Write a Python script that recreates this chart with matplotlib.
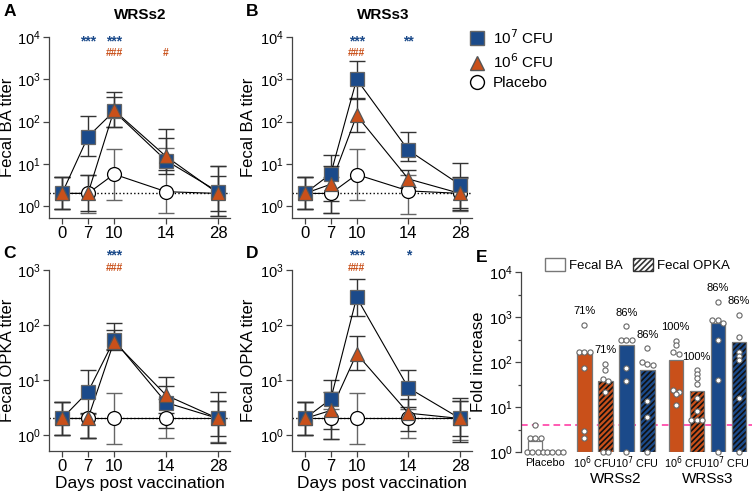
import numpy as np
import matplotlib.pyplot as plt
from matplotlib.patches import Patch
from matplotlib.lines import Line2D
from matplotlib.ticker import LogLocator, NullLocator, FixedLocator, NullFormatter

plt.rcParams['font.family'] = ['Liberation Sans', 'DejaVu Sans']
plt.rcParams['hatch.linewidth'] = 1.2

BLUE = '#1B4A8A'
ORANGE = '#C9501A'
AXC = '#444444'

days = ['0', '7', '10', '14', '28']
lod = 2.0

# ---- A: WRSs2 fecal BA
a_hi = [2.0, 44, 175, 12, 2.2]
a_hi_lo = [0.85, 15, 75, 5.8, 0.75]
a_hi_up = [5.0, 138, 490, 40, 9.0]
a_mid = [2.0, 2.0, 185, 15, 2.0]
a_mid_lo = [0.85, 0.75, 75, 7.0, 0.6]
a_mid_up = [5.0, 5.5, 390, 67, 5.3]
a_pl = [2.0, 2.0, 5.7, 2.2, 2.0]
a_pl_lo = [0.85, 0.7, 1.4, 0.68, 0.6]
a_pl_up = [5.0, 5.5, 22, 24, 9.0]

# ---- B: WRSs3 fecal BA
b_hi = [2.0, 5.8, 1000, 21, 3.2]
b_hi_lo = [0.85, 1.3, 370, 11.5, 0.9]
b_hi_up = [4.8, 16, 2650, 58, 10.5]
b_mid = [2.0, 3.3, 140, 4.4, 2.0]
b_mid_lo = [0.85, 0.7, 56, 2.8, 0.8]
b_mid_up = [4.8, 8.8, 350, 7.2, 5.0]
b_pl = [2.0, 2.0, 5.6, 2.3, 2.0]
b_pl_lo = [0.85, 0.7, 1.4, 0.65, 0.75]
b_pl_up = [4.8, 5.0, 22, 5.5, 4.6]

# ---- C: WRSs2 fecal OPKA
c_hi = [2.0, 6.1, 53, 3.9, 2.0]
c_hi_lo = [1.0, 0.9, 37, 1.35, 0.95]
c_hi_up = [4.0, 15, 107, 7.9, 6.1]
c_mid = [2.0, 2.0, 50, 5.3, 2.0]
c_mid_lo = [1.0, 0.87, 35, 2.5, 0.72]
c_mid_up = [4.0, 2.5, 81, 11.5, 4.2]
c_pl = [2.0, 2.0, 2.0, 2.0, 2.0]
c_pl_lo = [1.0, 0.9, 0.7, 0.87, 0.75]
c_pl_up = [4.0, 2.4, 5.8, 4.5, 4.2]

# ---- D: WRSs3 fecal OPKA
d_hi = [2.0, 4.5, 317, 7.2, 2.0]
d_hi_lo = [1.0, 0.85, 145, 3.3, 0.95]
d_hi_up = [4.0, 10, 690, 15, 4.8]
d_mid = [2.0, 2.8, 30, 2.5, 2.0]
d_mid_lo = [1.0, 1.3, 15.5, 1.2, 0.75]
d_mid_up = [4.0, 6.0, 62, 4.6, 4.2]
d_pl = [2.0, 2.0, 2.0, 2.0, 2.0]
d_pl_lo = [1.0, 0.85, 0.7, 0.87, 0.8]
d_pl_up = [4.0, 3.0, 5.8, 3.0, 4.2]

# significance marks: (day index, text, colour key)
a_sig = [(1, '***', 'b'), (2, '***', 'b'), (2, '###', 'o'), (3, '#', 'o')]
b_sig = [(2, '***', 'b'), (3, '**', 'b'), (2, '###', 'o')]
c_sig = [(2, '***', 'b'), (2, '###', 'o')]
d_sig = [(2, '***', 'b'), (3, '*', 'b'), (2, '###', 'o')]

# ---- E: fold increase
e_groups = ['Placebo', 'Placebo', 'WRSs2 1e6', 'WRSs2 1e6', 'WRSs2 1e7', 'WRSs2 1e7',
            'WRSs3 1e6', 'WRSs3 1e6', 'WRSs3 1e7', 'WRSs3 1e7']
e_assay = ['BA', 'OPKA'] * 5
e_height = [1.8, 1.0, 170, 37, 240, 68, 112, 23, 720, 275]
e_points = [
    [4, 2, 2, 2, 1, 1, 1, 1],
    [1, 1, 1, 1],
    [680, 170, 170, 170, 73, 3, 2],
    [92, 65, 42, 37, 22, 1, 1],
    [617, 313, 313, 313, 75, 38, 1],
    [200, 100, 92, 85, 13.5, 6, 1],
    [295, 236, 163, 147, 24, 22, 19, 11],
    [65, 54, 44, 32, 16, 8.2, 5.2, 5.2, 5.2],
    [2170, 870, 740, 870, 316, 39, 1],
    [1120, 360, 168, 135, 110, 16, 1],
]
e_pct = [None, None, '71%', '71%', '86%', '86%', '100%', '100%', '86%', '86%']
e_ticklabels = ['Placebo', r'10$^6$ CFU', r'10$^7$ CFU', r'10$^6$ CFU', r'10$^7$ CFU']
e_strains = ['WRSs2', 'WRSs3']
e_cutoff = 4

W, H = 752, 494
fig = plt.figure(figsize=(W / 100, H / 100), dpi=100)


def px_axes(x0, y0, x1, y1):
    return fig.add_axes([x0 / W, 1 - y1 / H, (x1 - x0) / W, (y1 - y0) / H])


xpos = [0, 0.5, 1, 2, 3]


def style(ax):
    for s in ['top', 'right']:
        ax.spines[s].set_visible(False)
    for s in ['left', 'bottom']:
        ax.spines[s].set_color(AXC)
        ax.spines[s].set_linewidth(0.9)
    ax.tick_params(colors=AXC, labelcolor='black', labelsize=10.5, width=0.9, length=4, pad=2)
    ax.tick_params(axis='x', labelsize=12, pad=2)


def time_panel(ax, hi, hi_lo, hi_up, mid, mid_lo, mid_up, pl, pl_lo, pl_up, ylim, sig, sig_y):
    style(ax)
    ax.set_yscale('log')
    ax.axhline(lod, color='black', ls=':', lw=1.0, zorder=1)
    series = [
        (pl, pl_lo, pl_up, 'o', 'white', 'black', '#666666', 10),
        (hi, hi_lo, hi_up, 's', BLUE, '#666666', '#333333', 10),
        (mid, mid_lo, mid_up, '^', ORANGE, '#555555', '#333333', 10),
    ]
    for k, (m, lo, up, mk, fc, ec, errc, ms) in enumerate(series):
        m = np.array(m)
        yerr = [m - np.array(lo), np.array(up) - m]
        ax.errorbar(xpos, m, yerr=yerr, fmt='none', ecolor=errc, elinewidth=1.0,
                    capsize=6, capthick=1.0, zorder=2 + k)
        ax.plot(xpos, m, color='black', lw=0.8, zorder=5 + k)
        ax.plot(xpos, m, ls='none', marker=mk, ms=ms, mfc=fc, mec=ec, mew=0.9, zorder=8 + k)
    ax.set_ylim(*ylim)
    ax.set_xlim(-0.25, 3.23)
    ax.set_xticks(xpos)
    ax.set_xticklabels(days)
    ax.yaxis.set_major_locator(LogLocator(base=10, numticks=10))
    ax.yaxis.set_minor_locator(NullLocator())
    for idx, txt, ck in sig:
        col = BLUE if ck == 'b' else ORANGE
        y = sig_y[0] if ck == 'b' else sig_y[1]
        ax.text(xpos[idx], y, txt, transform=ax.get_xaxis_transform(), ha='center', va='center',
                color=col, fontsize=10 if ck == 'b' else 7.5, fontweight='bold', clip_on=False)


axA = px_axes(49, 37, 230, 218)
time_panel(axA, a_hi, a_hi_lo, a_hi_up, a_mid, a_mid_lo, a_mid_up, a_pl, a_pl_lo, a_pl_up,
           (10 ** -0.28, 1e4), a_sig, (0.975, 0.91))
axA.set_ylabel('Fecal BA titer', fontsize=12)
axA.yaxis.set_label_coords(-0.19, 0.5)

axB = px_axes(292, 37, 472, 218)
time_panel(axB, b_hi, b_hi_lo, b_hi_up, b_mid, b_mid_lo, b_mid_up, b_pl, b_pl_lo, b_pl_up,
           (10 ** -0.28, 1e4), b_sig, (0.975, 0.91))
axB.set_ylabel('Fecal BA titer', fontsize=12)
axB.yaxis.set_label_coords(-0.2, 0.5)

axC = px_axes(49, 270, 230, 451)
time_panel(axC, c_hi, c_hi_lo, c_hi_up, c_mid, c_mid_lo, c_mid_up, c_pl, c_pl_lo, c_pl_up,
           (10 ** -0.29, 1e3), c_sig, (1.078, 1.01))
axC.set_ylabel('Fecal OPKA titer', fontsize=12)
axC.yaxis.set_label_coords(-0.19, 0.5)
axC.set_xlabel('Days post vaccination', fontsize=12.5, labelpad=1)

axD = px_axes(292, 270, 472, 451)
time_panel(axD, d_hi, d_hi_lo, d_hi_up, d_mid, d_mid_lo, d_mid_up, d_pl, d_pl_lo, d_pl_up,
           (10 ** -0.29, 1e3), d_sig, (1.078, 1.01))
axD.set_ylabel('Fecal OPKA titer', fontsize=12)
axD.yaxis.set_label_coords(-0.2, 0.5)
axD.set_xlabel('Days post vaccination', fontsize=12.5, labelpad=1)

fig.text(140 / W, 1 - 15 / H, 'WRSs2', ha='center', va='center', fontsize=11, fontweight='bold')
fig.text(383 / W, 1 - 15 / H, 'WRSs3', ha='center', va='center', fontsize=11, fontweight='bold')
for lab, x, y in [('A', 10, 11), ('B', 252, 11), ('C', 10, 253), ('D', 252, 253), ('E', 482, 257)]:
    fig.text(x / W, 1 - y / H, lab, ha='center', va='center', fontsize=12.5, fontweight='bold')

# legend for time courses
leg_handles = [
    Line2D([], [], ls='none', marker='s', ms=10, mfc=BLUE, mec='#666666'),
    Line2D([], [], ls='none', marker='^', ms=10, mfc=ORANGE, mec='#555555'),
    Line2D([], [], ls='none', marker='o', ms=10, mfc='white', mec='black'),
]
fig.legend(leg_handles, [r'10$^7$ CFU', r'10$^6$ CFU', 'Placebo'], loc='upper left',
           bbox_to_anchor=(462 / W, 1 - 22 / H), frameon=False, fontsize=11,
           handletextpad=0.4, labelspacing=0.35, handlelength=1.2, borderaxespad=0)

# ---- E
axE = px_axes(521, 272, 752, 452)
style(axE)
axE.spines['bottom'].set_visible(False)
axE.set_yscale('log')
epos = np.array([0, 0.95, 2.35, 3.35, 4.35, 5.35, 6.7, 7.7, 8.7, 9.7])
bw = 0.68
for i in range(len(epos)):
    g = e_groups[i]
    if g == 'Placebo':
        fc = 'white'
    elif '1e6' in g:
        fc = ORANGE
    else:
        fc = BLUE
    hatch = '//////' if e_assay[i] == 'OPKA' and g != 'Placebo' else None
    if hatch:
        axE.bar(epos[i], e_height[i] - 1, bottom=1, width=bw, color=fc, edgecolor='#111111',
                linewidth=0, hatch=hatch, zorder=2)
        axE.bar(epos[i], e_height[i] - 1, bottom=1, width=bw, color='none', edgecolor='#777777',
                linewidth=0.9, zorder=3)
    else:
        axE.bar(epos[i], e_height[i] - 1, bottom=1, width=bw, color=fc, edgecolor='#777777',
                linewidth=0.9, zorder=2)
    pts = np.array(e_points[i], dtype=float)
    pts = pts[np.argsort(-pts)]
    xs = np.zeros(len(pts))
    # spread points that sit at (nearly) the same level
    j = 0
    while j < len(pts):
        k = j
        while k + 1 < len(pts) and abs(np.log10(pts[k + 1]) - np.log10(pts[j])) < 0.08:
            k += 1
        n = k - j + 1
        if n > 1:
            step = min(0.26, 0.78 / (n - 1))
            xs[j:k + 1] = (np.arange(n) - (n - 1) / 2) * step
        j = k + 1
    axE.scatter(epos[i] + xs, pts, s=14, facecolor='white', edgecolor='#666666',
                linewidth=0.8, zorder=5, clip_on=False)
    if e_pct[i]:
        axE.annotate(e_pct[i], (epos[i], pts.max()), xytext=(0, 10), textcoords='offset points',
                     ha='center', va='center', fontsize=8)
axE.axhline(e_cutoff, color='#FF3EA5', ls=(0, (4, 2.5)), lw=1.2, zorder=1)
axE.set_ylim(1, 1e4)
axE.set_xlim(-0.67, 10.33)
axE.yaxis.set_major_locator(LogLocator(base=10, numticks=10))
axE.yaxis.set_minor_locator(FixedLocator([10 ** 0.5, 10 ** 1.5, 10 ** 2.5, 10 ** 3.5]))
axE.yaxis.set_minor_formatter(NullFormatter())
axE.tick_params(which='minor', length=2.5, width=0.9, colors=AXC)
axE.set_xticks([])
axE.set_ylabel('Fold increase', fontsize=12)
axE.yaxis.set_label_coords(-0.15, 0.5)
tick_x = [(epos[0] + epos[1]) / 2, (epos[2] + epos[3]) / 2, (epos[4] + epos[5]) / 2,
          (epos[6] + epos[7]) / 2, (epos[8] + epos[9]) / 2]
for x, t in zip(tick_x, e_ticklabels):
    axE.text(x, -0.06, t, transform=axE.get_xaxis_transform(), ha='center', va='center',
             fontsize=7.8)
for x, t in zip([(epos[2] + epos[5]) / 2, (epos[6] + epos[9]) / 2], e_strains):
    axE.text(x, -0.15, t, transform=axE.get_xaxis_transform(), ha='center', va='center',
             fontsize=11)
e_leg = [Patch(facecolor='white', edgecolor='#777777'),
         Patch(facecolor='white', edgecolor='#333333', hatch='//////')]
axE.legend(e_leg, ['Fecal BA', 'Fecal OPKA'], loc='center left', bbox_to_anchor=(0.08, 1.04),
           ncol=2, frameon=False, fontsize=9.5, handlelength=1.5, handleheight=1.1,
           handletextpad=0.3, columnspacing=0.8, borderaxespad=0)

fig.savefig('out.png', dpi=100)
